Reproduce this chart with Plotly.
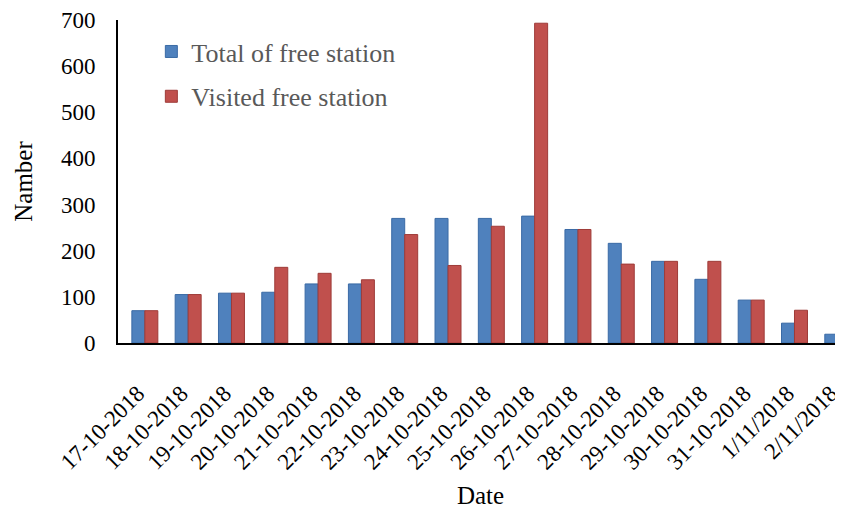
import plotly.graph_objects as go

dates = ["17-10-2018", "18-10-2018", "19-10-2018", "20-10-2018", "21-10-2018",
         "22-10-2018", "23-10-2018", "24-10-2018", "25-10-2018", "26-10-2018",
         "27-10-2018", "28-10-2018", "29-10-2018", "30-10-2018", "31-10-2018",
         "1/11/2018", "2/11/2018"]
total_free = [70, 105, 108, 110, 128, 128, 270, 270, 270, 275, 246, 216, 177, 138, 93, 43, 19]
visited_free = [70, 105, 108, 164, 151, 137, 235, 168, 253, 693, 246, 171, 177, 177, 93, 71, 17]
y_ticks = [0, 100, 200, 300, 400, 500, 600, 700]

FONT = "Liberation Serif, Times New Roman, serif"

fig = go.Figure()
fig.add_trace(go.Bar(x=dates, y=total_free, name="Total of free station", legendgroup="a",
                     marker=dict(color="#4F81BD", line=dict(color="#3A6AA5", width=1))))
fig.add_trace(go.Bar(x=dates, y=visited_free, name="Visited free station", legendgroup="b",
                     marker=dict(color="#C0504D", line=dict(color="#9E3B38", width=1))))

# the page body has an 8px margin, so the figure is sized to fill the rest of the window
fig.update_layout(
    width=835, height=501,
    margin=dict(l=110, r=0, t=12, b=166),
    paper_bgcolor="white", plot_bgcolor="white",
    barmode="group", bargap=0.4, bargroupgap=0.0,
    font=dict(family=FONT, size=23, color="black"),
    showlegend=True,
    legend=dict(x=0.046, y=0.975, xanchor="left", yanchor="top",
                font=dict(family=FONT, size=26, color="#595959"),
                bgcolor="rgba(0,0,0,0)", tracegroupgap=8, itemwidth=30),
    xaxis=dict(
        type="category", range=[-0.62, 16.12], automargin=False,
        showline=True, linecolor="black", linewidth=2,
        showgrid=False, ticks="", tickangle=-45,
        tickfont=dict(family=FONT, size=23, color="black"),
        ticklabelstandoff=26, ticklabelshift=-7, ticklabeloverflow="allow",
        title=dict(text="Date", font=dict(family=FONT, size=25, color="black"), standoff=18),
    ),
    yaxis=dict(
        range=[0, 700], tickvals=y_ticks, automargin=False,
        showline=True, linecolor="black", linewidth=2,
        showgrid=False, ticks="", zeroline=False,
        tickfont=dict(family=FONT, size=23, color="black"),
        ticklabelstandoff=16, ticklabeloverflow="allow",
        title=dict(text="Namber", font=dict(family=FONT, size=25, color="black"), standoff=21),
    ),
)

fig.write_html("out.html")
